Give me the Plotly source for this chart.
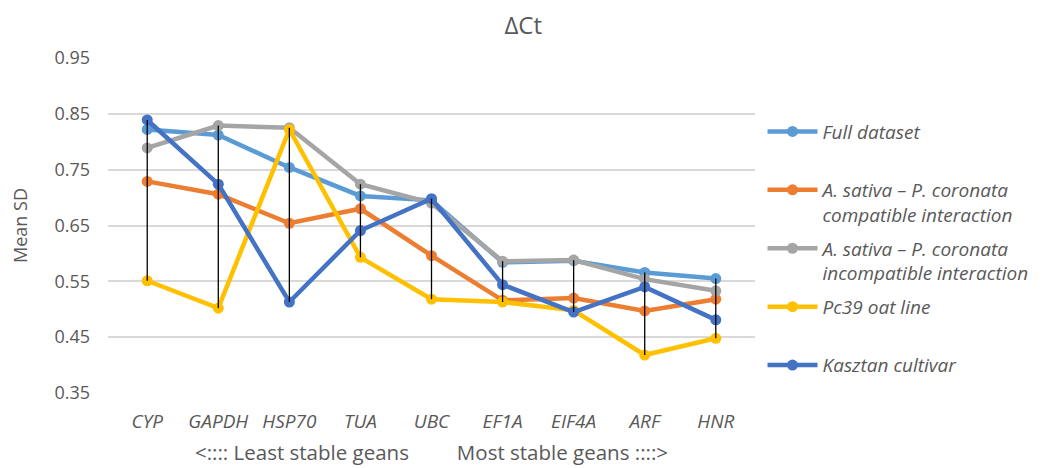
import plotly.graph_objects as go

genes = ["CYP", "GAPDH", "HSP70", "TUA", "UBC", "EF1A", "EIF4A", "ARF", "HNR"]

full_dataset = [0.822, 0.812, 0.754, 0.703, 0.695, 0.584, 0.587, 0.566, 0.555]
compatible = [0.729, 0.706, 0.654, 0.680, 0.596, 0.516, 0.520, 0.497, 0.518]
incompatible = [0.789, 0.829, 0.825, 0.724, 0.690, 0.586, 0.588, 0.554, 0.533]
pc39 = [0.551, 0.502, 0.822, 0.593, 0.518, 0.513, 0.498, 0.418, 0.448]
kasztan = [0.839, 0.724, 0.513, 0.641, 0.698, 0.544, 0.495, 0.540, 0.481]

series = [
    ("Full dataset<br> ", full_dataset, "#5B9BD5"),
    ("A. sativa – P. coronata<br>compatible interaction", compatible, "#ED7D31"),
    ("A. sativa – P. coronata<br>incompatible interaction", incompatible, "#A5A5A5"),
    ("Pc39 oat line<br> ", pc39, "#FFC000"),
    ("Kasztan cultivar<br> ", kasztan, "#4472C4"),
]

FONT = "'Open Sans', Lato, sans-serif"
GREY = "#595959"

fig = go.Figure()
for i, (name, vals, col) in enumerate(series):
    fig.add_trace(go.Scatter(
        x=genes, y=vals, name=name, mode="lines+markers",
        line=dict(color=col, width=4.5),
        marker=dict(color=col, size=11),
        legendgroup=f"g{i}",
    ))

# high-low lines
hx, hy = [], []
all_vals = [s[1] for s in series]
for j, g in enumerate(genes):
    col = [v[j] for v in all_vals]
    hx += [g, g, None]
    hy += [max(col), min(col), None]
fig.add_trace(go.Scatter(x=hx, y=hy, mode="lines", line=dict(color="#000000", width=1.3),
                         showlegend=False, hoverinfo="skip"))

fig.update_layout(
    width=1045, height=468,
    margin=dict(l=100, r=298, t=50, b=83),
    paper_bgcolor="white", plot_bgcolor="white",
    font=dict(family=FONT, color=GREY, size=17),
    title=dict(text="ΔCt", x=0.493, xref="container", xanchor="center", y=0.962, yanchor="middle",
               font=dict(size=24, color=GREY, family=FONT)),
    legend=dict(
        x=1.0116, xanchor="left", y=0.837, yanchor="top",
        font=dict(size=19, color=GREY, family=FONT, style="italic"),
        valign="top", tracegroupgap=6, itemwidth=50,
        bgcolor="rgba(0,0,0,0)",
    ),
    xaxis=dict(
        type="category", showgrid=False, showline=False, zeroline=False,
        tickfont=dict(size=19, color=GREY, family=FONT, style="italic"),
        ticks="", ticklabelstandoff=15,
        title=dict(text="<:::: Least stable geans" + "\u00a0" * 9 + "Most stable geans ::::>",
                   font=dict(size=20.5, color=GREY, family=FONT), standoff=12),
    ),
    yaxis=dict(
        range=[0.35, 0.95], dtick=0.1, tick0=0.35, tickformat=".2f",
        showgrid=True, gridcolor="#D9D9D9", gridwidth=1.5, zeroline=False, showline=False,
        tickfont=dict(size=18, color=GREY, family=FONT), ticks="", ticklabelstandoff=17,
        title=dict(text="Mean SD", font=dict(size=18, color=GREY, family=FONT), standoff=23),
    ),
)

fig.write_html("out.html")
